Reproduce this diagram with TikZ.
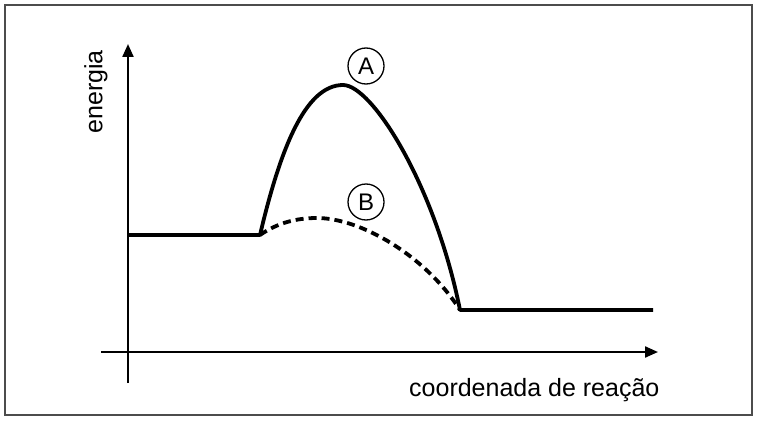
\documentclass[tikz,border=0pt]{standalone}
\usepackage{fontspec}
\setmainfont{Liberation Sans}
\usetikzlibrary{arrows.meta}
\begin{document}
\begin{tikzpicture}[x=1pt,y=-1pt,
  axis/.style={line width=2.2pt,-{Triangle[length=13pt,width=11pt]}},
  curve/.style={line width=3.8pt,line join=round},
  dashcurve/.style={line width=3.8pt,dash pattern=on 8pt off 5pt},
  lbl/.style={font=\fontsize{25}{30}\selectfont,inner sep=0pt},
  circ/.style={draw,circle,line width=1.3pt,minimum size=36pt,inner sep=0pt,font=\fontsize{24}{28}\selectfont}]
\useasboundingbox (0,0) rectangle (757,420);
\draw[line width=2pt,black!70] (5,5) rectangle (752,415);
% axes
\coordinate (yb) at (128,383);
\coordinate (yt) at (128,44);
\coordinate (xl) at (101,352);
\coordinate (xr) at (658,352);
\draw[axis] (yb) -- (yt);
\draw[axis] (xl) -- (xr);
% labels
\node[lbl,rotate=90] (en) at (96,92) {energia};
\node[lbl,anchor=base west] (cr) at (409,396) {coordenada de reação};
\node[circ] (A) at (366,66) {A};
\node[circ] (B) at (366,202) {B};
% profile
\coordinate (p0) at (128,235);
\coordinate (p1) at (260,235);
\coordinate (pA) at (343,85);
\coordinate (p2) at (460,310);
\coordinate (p3) at (653,310);
\coordinate (pB) at (317,218);
\draw[curve] (p0) -- (p1) .. controls (280,150) and (305,85) .. (pA)
  .. controls (372,85) and (435,185) .. (p2) -- (p3);
\draw[dashcurve] (p1) .. controls (276,224) and (294,218) .. (pB)
  .. controls (360,218) and (425,255) .. (p2);
\end{tikzpicture}
\end{document}
